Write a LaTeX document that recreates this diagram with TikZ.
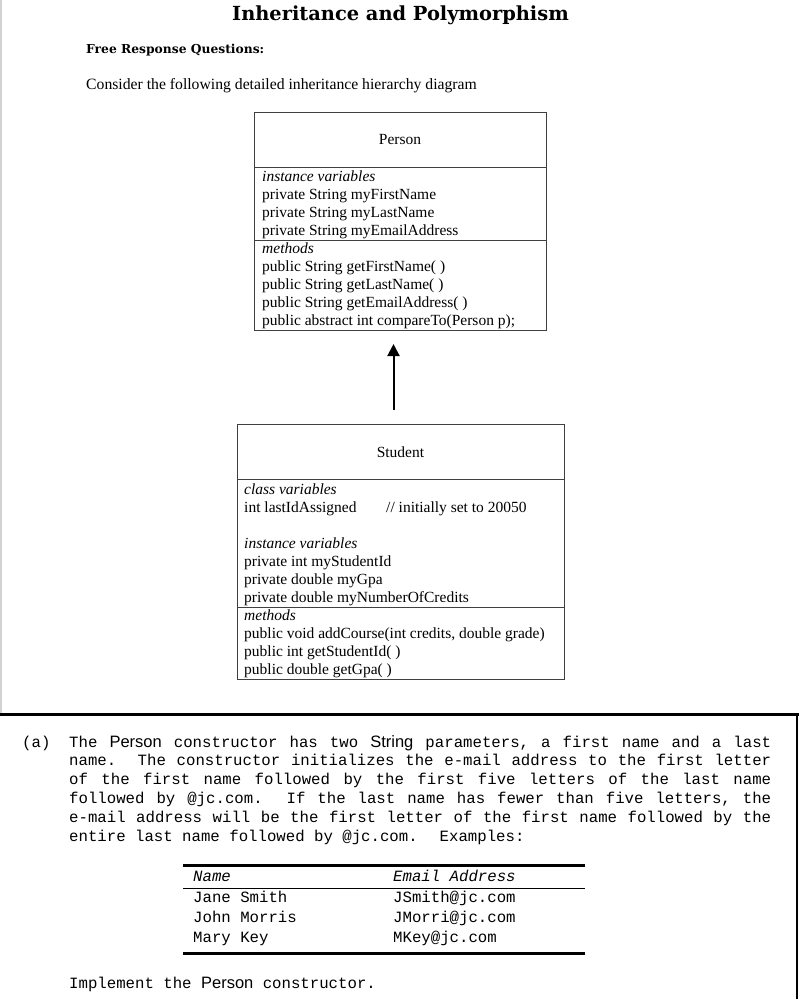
\documentclass[tikz,border=0pt]{standalone}
\usepackage{fontspec}
\setmainfont{Liberation Serif}
\newfontfamily\titlef{DejaVu Serif}
\newfontfamily\monof{Liberation Mono}
\newfontfamily\sansf{Liberation Sans}
\usetikzlibrary{arrows.meta,calc}
\tikzset{
  txt/.style={anchor=base west, inner sep=0pt, font=\fontsize{15.5}{18}\selectfont},
  ctxt/.style={anchor=base, inner sep=0pt, font=\fontsize{15.5}{18}\selectfont},
  umlbox/.style={draw=black!75, line width=1pt, anchor=north west, inner sep=0pt},
  sepline/.style={draw=black!75, line width=1pt},
  mono/.style={anchor=base west, inner sep=0pt, font=\monof\fontsize{15.7}{18}\selectfont},
  rulethick/.style={line width=3pt},
  rulethin/.style={line width=0.9pt},
}
\newcommand\Jline[1]{\hbox to 702pt{\frenchspacing\spaceskip=\fontdimen2\font plus 1fil\relax #1}}
\newcommand\Aw[1]{{\sansf\fontsize{16.5}{18}\selectfont #1}}
\begin{document}
\begin{tikzpicture}[x=1pt,y=-1pt]
\useasboundingbox (0,0) rectangle (799,999);
\fill[white] (0,0) rectangle (799,999);
% frame
\draw[gray!35, line width=1.5pt] (0.75,0) -- (0.75,713);
\draw[rulethick] (0,714.5) -- (799,714.5);
\draw[line width=2pt] (797,716) -- (797,999);
% headings
\node[anchor=base, inner sep=0pt, font=\titlef\bfseries\fontsize{19.4}{22}\selectfont] (title) at (400.5,20) {Inheritance and Polymorphism};
\node[anchor=base west, inner sep=0pt, font=\titlef\bfseries\fontsize{12.3}{14}\selectfont] (frq) at (86,53) {Free Response Questions:};
\node[anchor=base west, inner sep=0pt, font=\fontsize{15.7}{18}\selectfont] (consider) at (86,89) {Consider the following detailed inheritance hierarchy diagram};
% Person box
\node[umlbox, minimum width=292pt, minimum height=218pt] (person) at (254,112) {};
\draw[sepline] (254,167) -- (546,167);
\draw[sepline] (254,240) -- (546,240);
\node[ctxt] (pname) at (400,144) {Person};
\node[txt] (p1) at (262,181) {\itshape instance variables};
\node[txt] (p2) at (262,199) {private String myFirstName};
\node[txt] (p3) at (262,217) {private String myLastName};
\node[txt] (p4) at (262,235) {private String myEmailAddress};
\node[txt] (p5) at (262,253) {\itshape methods};
\node[txt] (p6) at (262,271) {public String getFirstName( )};
\node[txt] (p7) at (262,289) {public String getLastName( )};
\node[txt] (p8) at (262,307) {public String getEmailAddress( )};
\node[txt] (p9) at (262,325) {public abstract int compareTo(Person p);};
% Student box
\node[umlbox, minimum width=327pt, minimum height=255pt] (student) at (237,424) {};
\draw[sepline] (237,479) -- (564,479);
\draw[sepline] (237,607) -- (564,607);
\node[ctxt] (sname) at (400.5,457) {Student};
\node[txt] (s1) at (244,494) {\itshape class variables};
\node[txt] (s2) at (244,512) {int lastIdAssigned};
\node[txt] (s2c) at (386,512) {// initially set to 20050};
\node[txt] (s3) at (244,548) {\itshape instance variables};
\node[txt] (s4) at (244,566) {private int myStudentId};
\node[txt] (s5) at (244,584) {private double myGpa};
\node[txt] (s6) at (244,602) {private double myNumberOfCredits};
\node[txt] (s7) at (244,620) {\itshape methods};
\node[txt] (s8) at (244,638) {public void addCourse(int credits, double grade)};
\node[txt] (s9) at (244,656) {public int getStudentId( )};
\node[txt] (s10) at (244,674) {public double getGpa( )};
% inheritance arrow
\draw[line width=2pt, -{Triangle[length=12pt,width=12pt]}] ($(student.north)+(-7.5,-14)$) -- ($(person.south)+(-7,13)$);
% question text
\node[mono] (qa) at (22,747) {(a)};
\node[mono] (l1) at (69,747) {\Jline{The \Aw{Person} constructor has two \Aw{String} parameters, a first name and a last}};
\node[mono] (l2) at (69,765.8) {\Jline{name. \ The constructor initializes the e-mail address to the first letter}};
\node[mono] (l3) at (69,784.6) {\Jline{of the first name followed by the first five letters of the last name}};
\node[mono] (l4) at (69,803.4) {\Jline{followed by @jc.com. \ If the last name has fewer than five letters, the}};
\node[mono] (l5) at (69,822.2) {\Jline{e-mail address will be the first letter of the first name followed by the}};
\node[mono] (l6) at (69,841) {entire last name followed by @jc.com. \ Examples:};
% table
\draw[rulethick] (183,865) -- (585,865);
\draw[rulethin] (183,888) -- (585,888);
\draw[rulethick] (183,953) -- (585,953);
\node[mono] (th1) at (193,881) {\itshape Name};
\node[mono] (th2) at (393,881) {\itshape Email Address};
\node[mono] (r1a) at (193,902) {Jane Smith};
\node[mono] (r1b) at (393,902) {JSmith@jc.com};
\node[mono] (r2a) at (193,922) {John Morris};
\node[mono] (r2b) at (393,922) {JMorri@jc.com};
\node[mono] (r3a) at (193,942) {Mary Key};
\node[mono] (r3b) at (393,942) {MKey@jc.com};
\node[mono] (impl) at (69,988) {Implement the \Aw{Person} constructor.};
\end{tikzpicture}
\end{document}
